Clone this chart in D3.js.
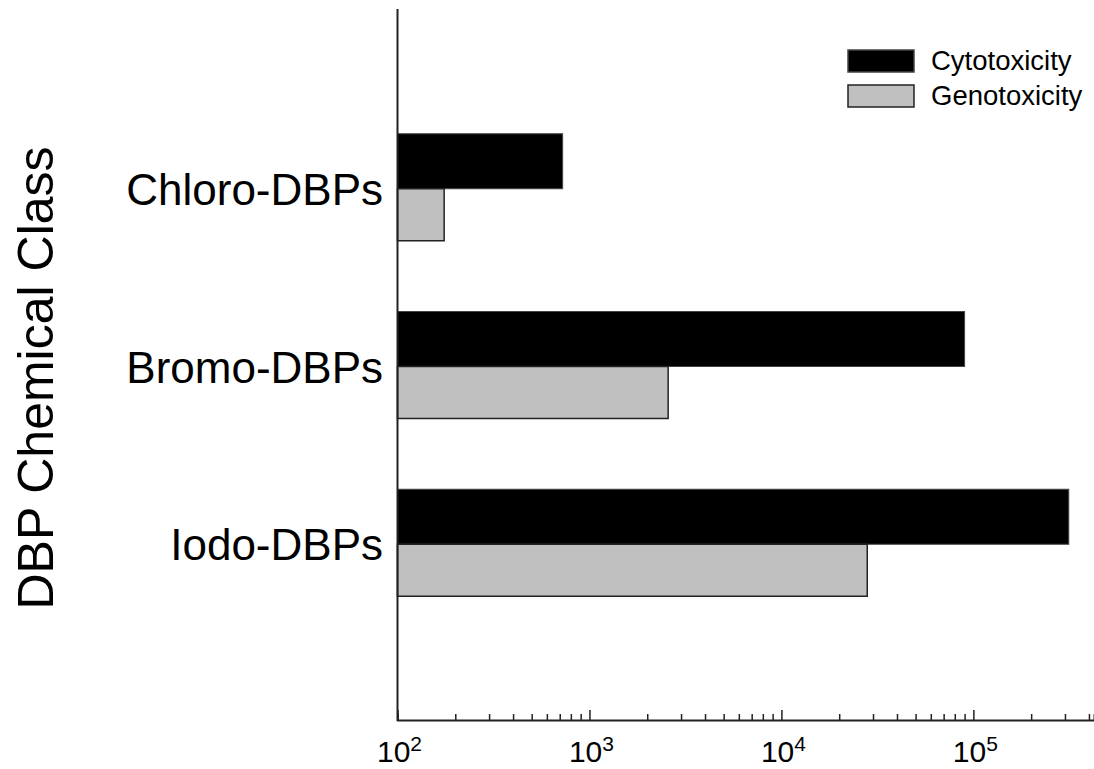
<!DOCTYPE html>
<meta charset="utf-8">
<style>
body { margin: 0; background: #fff; }
text { font-family: "Liberation Sans", Arial, sans-serif; fill: #000; }
</style>
<svg width="1094" height="769" id="svg"></svg>
<script src="https://d3js.org/d3.v7.min.js"></script>
<script>

// data
var categories = ["Chloro-DBPs", "Bromo-DBPs", "Iodo-DBPs"];
var series = ["Cytotoxicity", "Genotoxicity"];
var cytotoxicity = [725, 90000, 314000];
var genotoxicity = [175, 2570, 28000];
var majorTicks = [100, 1000, 10000, 100000];
var tickExponents = ["2", "3", "4", "5"];

var svg = d3.select("svg");

var x = d3.scaleLog()
    .domain([100, 425000])
    .range([397.5, 1094]);

// category centres, spaced evenly along the vertical axis
var y = d3.scaleLinear()
    .domain([0, categories.length + 1])
    .range([11, 722]);

var colors = { "Cytotoxicity": "#000", "Genotoxicity": "#c0c0c0" };
var strokes = { "Cytotoxicity": "#444", "Genotoxicity": "#222" };

// bars
var rows = categories.map(function(c, i) {
  return { name: c, i: i + 1, cyto: cytotoxicity[i], geno: genotoxicity[i] };
});

var g = svg.append("g").attr("class", "bars");

g.selectAll("rect.cyto")
  .data(rows)
  .enter().append("rect")
    .attr("class", "cyto")
    .attr("x", x(100))
    .attr("y", function(d) { return y(d.i) - 55; })
    .attr("width", function(d) { return x(d.cyto) - x(100); })
    .attr("height", 55)
    .attr("fill", colors.Cytotoxicity)
    .attr("stroke", strokes.Cytotoxicity)
    .attr("stroke-width", 1);

g.selectAll("rect.geno")
  .data(rows)
  .enter().append("rect")
    .attr("class", "geno")
    .attr("x", x(100))
    .attr("y", function(d) { return y(d.i); })
    .attr("width", function(d) { return x(d.geno) - x(100); })
    .attr("height", 52)
    .attr("fill", colors.Genotoxicity)
    .attr("stroke", strokes.Genotoxicity)
    .attr("stroke-width", 1.5);

// x axis: minor ticks then major ticks, pointing up into the plot
var minor = x.ticks().filter(function(t) { return majorTicks.indexOf(t) < 0; });

var axisMinor = d3.axisBottom(x)
    .tickValues(minor)
    .tickSize(-6)
    .tickFormat("");

var axisMajor = d3.axisBottom(x)
    .tickValues(majorTicks)
    .tickSize(-10)
    .tickFormat("");

var gx = svg.append("g").attr("transform", "translate(0,720)").call(axisMinor);
svg.append("g").attr("transform", "translate(0,720)").call(axisMajor)
  .select(".domain").remove();

gx.select(".domain").attr("stroke", "#222").attr("stroke-width", 2);
svg.selectAll(".tick line").attr("stroke", "#222").attr("stroke-width", 1.5);

// power-of-ten labels
var lab = svg.append("g").selectAll("text")
  .data(majorTicks)
  .enter().append("text")
    .attr("x", function(d) { return x(d) + 2; })
    .attr("y", 762)
    .attr("text-anchor", "middle")
    .style("font-size", "30px");

lab.append("tspan").text("10");
lab.append("tspan")
    .attr("dy", -11)
    .style("font-size", "21px")
    .text(function(d, i) { return tickExponents[i]; });

// y axis line
svg.append("line")
    .attr("x1", x(100)).attr("x2", x(100))
    .attr("y1", 9).attr("y2", 721)
    .attr("stroke", "#222")
    .attr("stroke-width", 2);

// category labels
svg.append("g").selectAll("text")
  .data(rows)
  .enter().append("text")
    .attr("x", 383)
    .attr("y", function(d) { return y(d.i) + 16; })
    .attr("text-anchor", "end")
    .style("font-size", "44px")
    .text(function(d) { return d.name; });

// y title
svg.append("text")
    .attr("transform", "translate(53,378) rotate(-90)")
    .attr("text-anchor", "middle")
    .style("font-size", "50px")
    .text("DBP Chemical Class");

// legend
var legend = svg.append("g").selectAll("g")
  .data(series)
  .enter().append("g")
    .attr("transform", function(d, i) { return "translate(848," + (50 + i * 35) + ")"; });

legend.append("rect")
    .attr("width", 66)
    .attr("height", 22)
    .attr("fill", function(d) { return colors[d]; })
    .attr("stroke", function(d) { return strokes[d]; })
    .attr("stroke-width", 1.5);

legend.append("text")
    .attr("x", 83)
    .attr("y", 20)
    .style("font-size", "27.5px")
    .text(function(d) { return d; });

</script>
